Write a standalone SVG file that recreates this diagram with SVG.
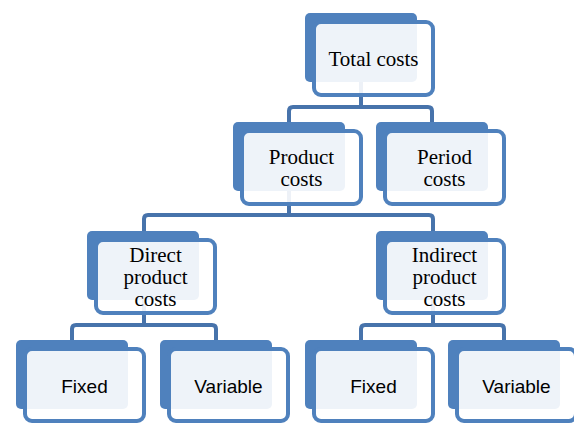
<svg xmlns="http://www.w3.org/2000/svg" width="574" height="423" viewBox="0 0 574 423">
  <style>
    .back { fill: #4F81BD; }
    .front { fill: #FFFFFF; fill-opacity: 0.9; stroke: #4F81BD; stroke-width: 4; }
    .link { fill: none; stroke: #4773AB; stroke-width: 4; stroke-linejoin: round; }
    .serif { font-family: "Liberation Serif", "Times New Roman", serif; font-size: 21px; fill: #000; text-anchor: middle; }
    .sans { font-family: "Liberation Sans", Arial, sans-serif; font-size: 19px; fill: #000; text-anchor: middle; }
  </style>
  <rect width="574" height="423" fill="#FFFFFF"/>

  <!-- hierarchy links -->
  <g id="connectors">
    <path class="link" d="M361,82 V107"/>
    <path class="link" d="M289,122 V111 Q289,107 293,107 H428 Q432,107 432,111 V122"/>
    <path class="link" d="M289,191 V215"/>
    <path class="link" d="M144,231 V219 Q144,215 148,215 H429 Q433,215 433,219 V231"/>
    <path class="link" d="M144,300 V325"/>
    <path class="link" d="M72,340 V329 Q72,325 76,325 H212 Q216,325 216,329 V340"/>
    <path class="link" d="M433,300 V325"/>
    <path class="link" d="M361,340 V329 Q361,325 365,325 H500 Q504,325 504,329 V340"/>
  </g>

  <g id="total-costs">
    <rect class="back" x="305" y="13" width="112" height="69" rx="5"/>
    <rect class="front" x="314" y="22" width="119" height="73" rx="7"/>
    <text class="serif" x="373.5" y="66">Total costs</text>
  </g>

  <g id="product-costs">
    <rect class="back" x="233" y="122" width="112" height="69" rx="5"/>
    <rect class="front" x="242" y="131" width="119" height="73" rx="7"/>
    <text class="serif" x="301.5" y="164">Product</text>
    <text class="serif" x="301.5" y="186">costs</text>
  </g>

  <g id="period-costs">
    <rect class="back" x="376" y="122" width="112" height="69" rx="5"/>
    <rect class="front" x="385" y="131" width="119" height="73" rx="7"/>
    <text class="serif" x="444.5" y="164">Period</text>
    <text class="serif" x="444.5" y="186">costs</text>
  </g>

  <g id="direct-product-costs">
    <rect class="back" x="87" y="231" width="112" height="69" rx="5"/>
    <rect class="front" x="96" y="240" width="119" height="73" rx="7"/>
    <text class="serif" x="155.5" y="262">Direct</text>
    <text class="serif" x="155.5" y="284">product</text>
    <text class="serif" x="155.5" y="306">costs</text>
  </g>

  <g id="indirect-product-costs">
    <rect class="back" x="376" y="231" width="112" height="69" rx="5"/>
    <rect class="front" x="385" y="240" width="119" height="73" rx="7"/>
    <text class="serif" x="444.5" y="262">Indirect</text>
    <text class="serif" x="444.5" y="284">product</text>
    <text class="serif" x="444.5" y="306">costs</text>
  </g>

  <g id="direct-fixed">
    <rect class="back" x="16" y="340" width="112" height="69" rx="5"/>
    <rect class="front" x="25" y="349" width="119" height="72" rx="7"/>
    <text class="sans" x="84.5" y="393">Fixed</text>
  </g>

  <g id="direct-variable">
    <rect class="back" x="160" y="340" width="112" height="69" rx="5"/>
    <rect class="front" x="169" y="349" width="119" height="72" rx="7"/>
    <text class="sans" x="228.5" y="393">Variable</text>
  </g>

  <g id="indirect-fixed">
    <rect class="back" x="305" y="340" width="112" height="69" rx="5"/>
    <rect class="front" x="314" y="349" width="119" height="72" rx="7"/>
    <text class="sans" x="373.5" y="393">Fixed</text>
  </g>

  <g id="indirect-variable">
    <rect class="back" x="448" y="340" width="112" height="69" rx="5"/>
    <rect class="front" x="457" y="349" width="119" height="72" rx="7"/>
    <text class="sans" x="516.5" y="393">Variable</text>
  </g>
</svg>
